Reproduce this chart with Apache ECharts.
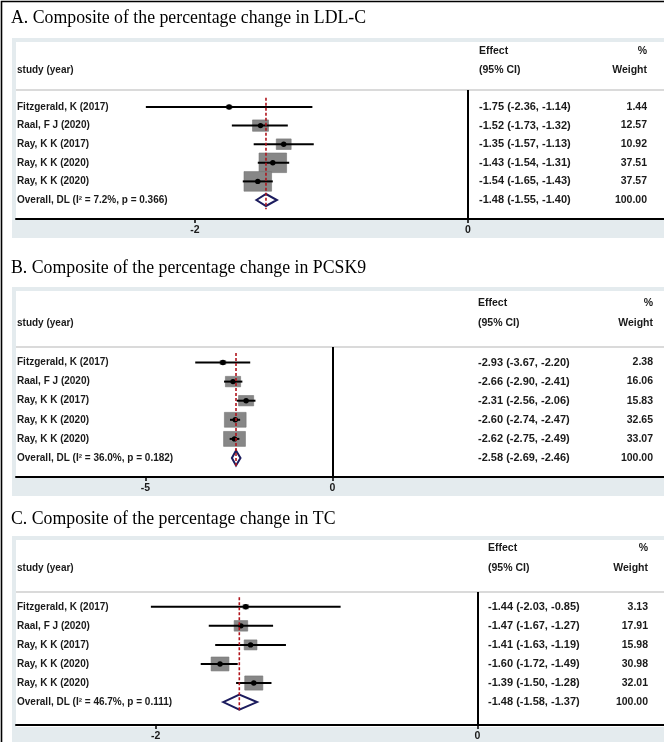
<!DOCTYPE html>
<html><head><meta charset="utf-8">
<script src="https://cdn.jsdelivr.net/npm/echarts@6/dist/echarts.min.js"></script>
<style>html,body{margin:0;padding:0;background:#fff}#c{width:664px;height:742px}</style>
</head><body><div id="c"></div>
<script>
// ---------------- DATA ----------------
const studies = ['Fitzgerald, K (2017)', 'Raal, F J (2020)', 'Ray, K K (2017)', 'Ray, K K (2020)', 'Ray, K K (2020)'];

const titleA = 'A. Composite of the percentage change in LDL-C';
const effectA = [-1.75, -1.52, -1.35, -1.43, -1.54];
const lowerA  = [-2.36, -1.73, -1.57, -1.54, -1.65];
const upperA  = [-1.14, -1.32, -1.13, -1.31, -1.43];
const weightA = [1.44, 12.57, 10.92, 37.51, 37.57];
const overallA = [-1.48, -1.55, -1.40];   // effect, lower, upper
const hetA = ['7.2%', '0.366'];
const ticksA = [-2, 0];

const titleB = 'B. Composite of the percentage change in PCSK9';
const effectB = [-2.93, -2.66, -2.31, -2.60, -2.62];
const lowerB  = [-3.67, -2.90, -2.56, -2.74, -2.75];
const upperB  = [-2.20, -2.41, -2.06, -2.47, -2.49];
const weightB = [2.38, 16.06, 15.83, 32.65, 33.07];
const overallB = [-2.58, -2.69, -2.46];
const hetB = ['36.0%', '0.182'];
const ticksB = [-5, 0];

const titleC = 'C. Composite of the percentage change in TC';
const effectC = [-1.44, -1.47, -1.41, -1.60, -1.39];
const lowerC  = [-2.03, -1.67, -1.63, -1.72, -1.50];
const upperC  = [-0.85, -1.27, -1.19, -1.49, -1.28];
const weightC = [3.13, 17.91, 15.98, 30.98, 32.01];
const overallC = [-1.48, -1.58, -1.37];
const hetC = ['46.7%', '0.111'];
const ticksC = [-2, 0];

const headers = { study: 'study (year)', effect: 'Effect', ci: '(95% CI)', pct: '%', weight: 'Weight' };

// ---------------- LAYOUT (positions / styles) ----------------
const panels = [
  {title: titleA, eff: effectA, lo: lowerA, hi: upperA, w: weightA, ov: overallA, het: hetA, ticks: ticksA,
   L: {ty:18, box:38, effY:51, headY:70, sep:90, row1:107, step:18.6, axis:219, strip:238, x0:468, sc:136.5, ciX:479, wR:647, kW:4.5, kH:3.2, dh:6}},
  {title: titleB, eff: effectB, lo: lowerB, hi: upperB, w: weightB, ov: overallB, het: hetB, ticks: ticksB,
   L: {ty:268, box:287, effY:303, headY:323, sep:347, row1:362.5, step:19.1, axis:477, strip:496, x0:332.5, sc:37.4, ciX:478, wR:653, kW:3.8, kH:2.6, dh:7.5}},
  {title: titleC, eff: effectC, lo: lowerC, hi: upperC, w: weightC, ov: overallC, het: hetC, ticks: ticksC,
   L: {ty:519, box:536, effY:548, headY:568, sep:592, row1:607, step:19.35, axis:727, strip:746, x0:477.3, sc:160.8, ciX:488, wR:648, kW:3.2, kH:2.5, dh:7.5}}
];

const GL = 16, W = 664;
const FONT = 'Liberation Sans, Arial, sans-serif';
const TXT = '#1a1a1a';
const f2 = v => v.toFixed(2);

const grid = [], xAxis = [], yAxis = [], series = [], graphic = [];

// outer border (top + left)
graphic.push({type:'polyline', z:200, shape:{points:[[1.5,742],[1.5,1.5],[664,1.5]]}, style:{stroke:'#000', lineWidth:1.6, fill:null}});

panels.forEach((p, k) => {
  const L = p.L;
  const n = studies.length;
  const rowNames = studies.concat(['Overall, DL (I\u00B2 = ' + p.het[0] + ', p = ' + p.het[1] + ')']);
  const rowCI = p.eff.map((e, i) => f2(e) + ' (' + f2(p.lo[i]) + ', ' + f2(p.hi[i]) + ')')
    .concat([f2(p.ov[0]) + ' (' + f2(p.ov[1]) + ', ' + f2(p.ov[2]) + ')']);
  const rowW = p.w.map(f2).concat(['100.00']);

  // background
  graphic.push({type:'rect', z:-10, shape:{x:12, y:L.box, width:W-12, height:L.strip-L.box}, style:{fill:'#e4ebee'}});
  graphic.push({type:'rect', z:-10, shape:{x:GL, y:L.box+4, width:W-GL, height:L.axis-L.box-4}, style:{fill:'#fff'}});
  graphic.push({type:'rect', z:-10, shape:{x:GL, y:L.sep-1, width:W-GL, height:2}, style:{fill:'#dadada'}});
  // title
  graphic.push({type:'text', z:100, x:11, y:L.ty, scaleX:0.96, style:{text:p.title, font:'18.5px "Liberation Serif", "Times New Roman", serif', fill:'#000', verticalAlign:'middle', align:'left'}});
  // headers
  const hs = (t, x, y, al, fs) => graphic.push({type:'text', z:100, x:x, y:y, style:{text:t, font:'bold ' + fs + 'px ' + FONT, fill:TXT, verticalAlign:'middle', align:al}});
  hs(headers.study, 17, L.headY, 'left', 10);
  hs(headers.effect, L.ciX, L.effY, 'left', 10.5);
  hs(headers.ci, L.ciX, L.headY, 'left', 10.5);
  hs(headers.pct, L.wR, L.effY, 'right', 10.5);
  hs(headers.weight, L.wR, L.headY, 'right', 10.5);

  grid.push({left: GL, right: 0, top: L.sep, height: L.axis - L.sep, containLabel: false});
  xAxis.push({
    type:'value', gridIndex:k, min:(GL - L.x0)/L.sc, max:(W - L.x0)/L.sc,
    axisLine:{show:true, onZero:false, lineStyle:{color:'#000', width:2}},
    axisTick:{show:true, customValues:p.ticks, length:4, lineStyle:{color:'#000', width:1.5}},
    axisLabel:{show:true, customValues:p.ticks, margin:6, color:TXT, fontSize:10.5, fontWeight:'bold', fontFamily:FONT, formatter: v => String(v)},
    splitLine:{show:false}
  });
  const nW = L.ciX - 17, cW = 112, wW = L.wR - L.ciX - cW;
  yAxis.push({
    type:'value', gridIndex:k, inverse:true,
    min: 1 - (L.row1 - L.sep)/L.step, max: 1 + (L.axis - L.row1)/L.step,
    axisLine:{show:false}, axisTick:{show:false}, splitLine:{show:false},
    axisLabel:{
      show:true, inside:true, margin:1, align:'left', customValues:[1,2,3,4,5,6],
      formatter: v => { const i = Math.round(v) - 1; return '{n|' + rowNames[i] + '}{c|' + rowCI[i] + '}{w|' + rowW[i] + '}'; },
      rich:{
        n:{width:nW, align:'left', fontSize:10, fontWeight:'bold', fontFamily:FONT, color:TXT},
        c:{width:cW, align:'left', fontSize:11, fontWeight:'bold', fontFamily:FONT, color:TXT},
        w:{width:wW, align:'right', fontSize:10.5, fontWeight:'bold', fontFamily:FONT, color:TXT}
      }
    }
  });

  const data = studies.map((s, i) => [i + 1, p.eff[i], p.lo[i], p.hi[i], p.w[i]]);
  series.push({
    type:'custom', xAxisIndex:k, yAxisIndex:k, z:3, clip:false,
    data: data, encode:{x:[1,2,3], y:0},
    renderItem: (params, api) => {
      const row = api.value(0), e = api.value(1), lo = api.value(2), hi = api.value(3), w = api.value(4);
      const pe = api.coord([e, row]), pl = api.coord([lo, row]), ph = api.coord([hi, row]);
      const bw = L.kW * Math.sqrt(w), bh = L.kH * Math.sqrt(w);
      return {type:'group', children:[
        {type:'rect', shape:{x:pe[0]-bw/2, y:pe[1]-bh/2, width:bw, height:bh}, style:{fill:'#878787', stroke:'#767676', lineWidth:0.6}},
        {type:'line', shape:{x1:pl[0], y1:pl[1], x2:ph[0], y2:ph[1]}, style:{stroke:'#000', lineWidth:2}},
        {type:'circle', shape:{cx:pe[0], cy:pe[1], r:2.7}, style:{fill:'#000'}}
      ]};
    },
    markLine:{silent:true, symbol:['none','none'], label:{show:false}, lineStyle:{color:'#000', width:2, type:'solid'}, data:[{xAxis:0}]}
  });
  series.push({
    type:'custom', xAxisIndex:k, yAxisIndex:k, z:4, clip:false,
    data: [[n + 1, p.ov[0], p.ov[1], p.ov[2]]], encode:{x:[1,2,3], y:0},
    renderItem: (params, api) => {
      const row = api.value(0), e = api.value(1), lo = api.value(2), hi = api.value(3);
      const pe = api.coord([e, row]), pl = api.coord([lo, row]), ph = api.coord([hi, row]);
      return {type:'polygon', shape:{points:[[pl[0], pe[1]], [pe[0], pe[1]-L.dh], [ph[0], pe[1]], [pe[0], pe[1]+L.dh]]},
        style:{fill:'#fff', stroke:'#1c1c5e', lineWidth:2}};
    }
  });
  series.push({
    type:'line', xAxisIndex:k, yAxisIndex:k, z:6, symbol:'none', silent:true,
    data: [[p.ov[0], 0.5], [p.ov[0], n + 1.5]],
    lineStyle:{color:'#b0141c', width:1.6, type:[3,2]}
  });
});

const chart = echarts.init(document.getElementById('c'), null, {renderer:'canvas'});
chart.setOption({animation:false, grid, xAxis, yAxis, series, graphic});
</script>
</body></html>
